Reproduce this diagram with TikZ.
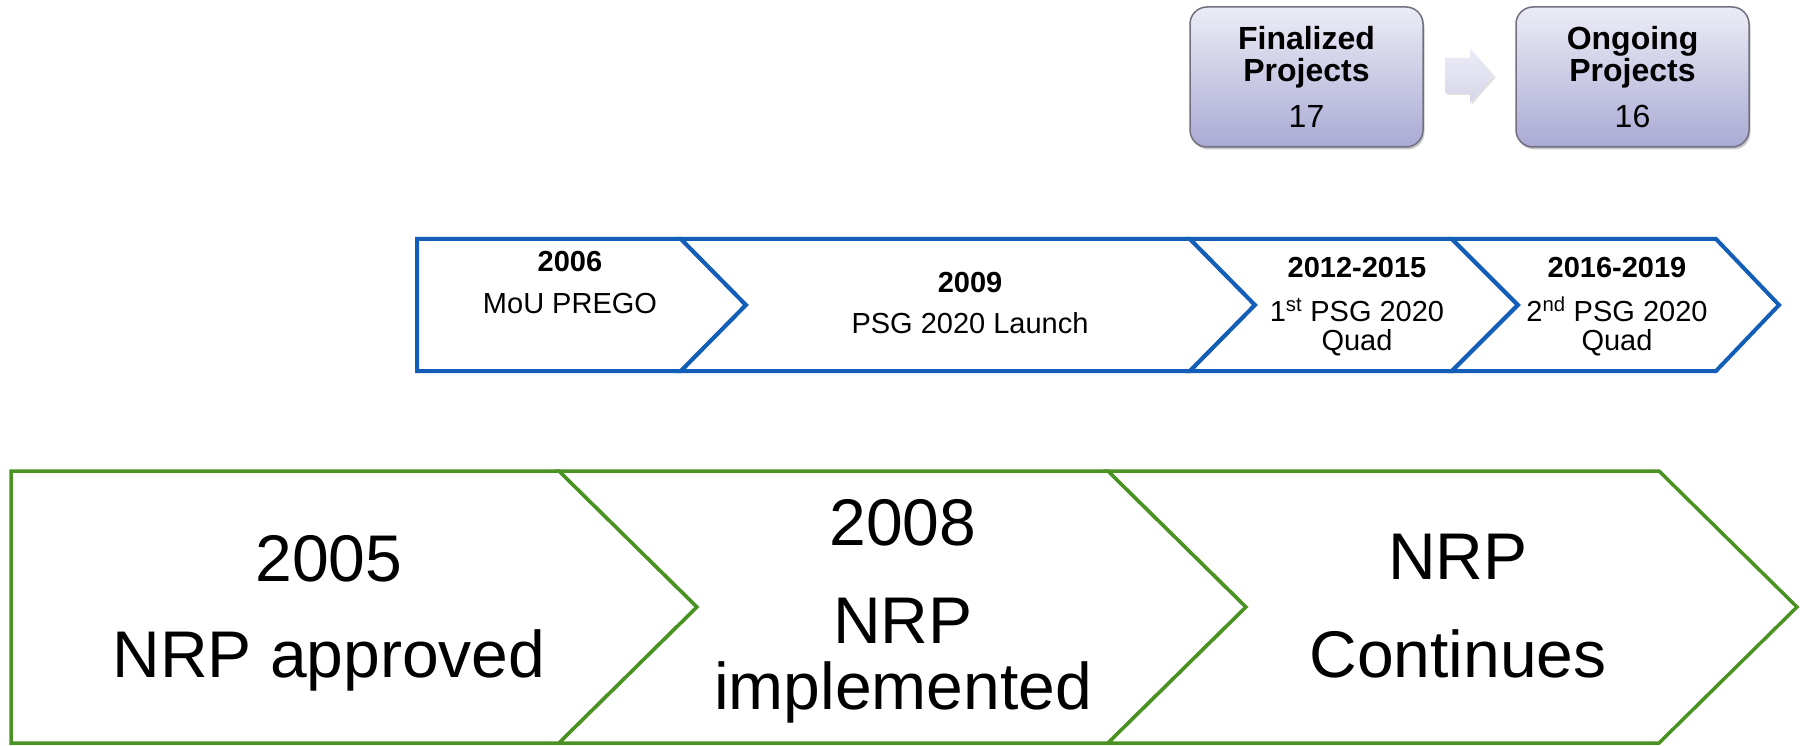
\documentclass[tikz,border=0pt]{standalone}
\usepackage{fontspec}
\setmainfont{Liberation Sans}
\usetikzlibrary{shadows,calc}
\definecolor{chevblue}{RGB}{18,94,184}
\definecolor{chevgreen}{RGB}{74,146,34}
\definecolor{boxtop}{RGB}{236,236,246}
\definecolor{boxbot}{RGB}{170,170,213}
\definecolor{boxline}{RGB}{112,112,128}
\definecolor{arrtop}{RGB}{236,236,246}
\definecolor{arrbot}{RGB}{214,214,234}
\begin{document}
\begin{tikzpicture}[x=1pt,y=-1pt,
  bchev/.style={draw=chevblue, line width=4pt, fill=white},
  gchev/.style={draw=chevgreen, line width=3.5pt, fill=white},
  byr/.style={font=\fontsize{29}{33}\selectfont\bfseries, anchor=base, inner sep=0pt},
  btx/.style={font=\fontsize{29}{33}\selectfont, anchor=base, inner sep=0pt},
  gtx/.style={font=\fontsize{66}{70}\selectfont, anchor=base, inner sep=0pt},
  projbox/.style={rounded corners=17pt, draw=boxline, line width=1.5pt,
    top color=boxtop, bottom color=boxbot, minimum width=233pt, minimum height=140pt,
    align=center, font=\fontsize{32}{32}\selectfont,
    drop shadow={shadow xshift=1.5pt, shadow yshift=-2.5pt, opacity=0.35, fill=black!60}},
  blockarrow/.style={top color=arrtop, bottom color=arrbot,
    drop shadow={shadow xshift=1.5pt, shadow yshift=-2pt, opacity=0.2, fill=black!60}},
]
\fill[white] (0,0) rectangle (1800,746);
\useasboundingbox (0,0) rectangle (1800,746);

% top project boxes
\node[projbox] (fin) at (1306.5,77) {\textbf{Finalized}\\\textbf{Projects}\\[14pt]17};
\node[projbox] (ong) at (1632.5,77) {\textbf{Ongoing}\\\textbf{Projects}\\[14pt]16};
\coordinate (ac) at ($(fin.east)!0.5!(ong.west)+(0,-1.5)$);
\path[blockarrow] ($(ac)+(-24.5,-17.5)$) -- ++(25,0) -- ++(0,-10) -- ++(24,27.5)
  -- ++(-24,27.5) -- ++(0,-10) -- ++(-25,0) -- cycle;

% blue chevrons
\draw[bchev] (417,239) -- (681,239) -- (746,305) -- (681,371) -- (417,371) -- cycle;
\draw[bchev] (681,239) -- (1190,239) -- (1255,305) -- (1190,371) -- (681,371) -- (746,305) -- cycle;
\draw[bchev] (1190,239) -- (1452,239) -- (1518,305) -- (1452,371) -- (1190,371) -- (1255,305) -- cycle;
\draw[bchev] (1452,239) -- (1716,239) -- (1779,305) -- (1716,371) -- (1452,371) -- (1518,305) -- cycle;

\node[byr] (t06) at (570,272) {2006};
\node[btx] (m06) at (570,313) {MoU PREGO};
\node[byr] (t09) at (970,293) {2009};
\node[btx] (m09) at (970,334) {PSG 2020 Launch};
\node[byr] (t12) at (1357,277) {2012-2015};
\node[btx] (m12a) at (1357,321) {1\textsuperscript{st} PSG 2020};
\node[btx] (m12b) at (1357,350) {Quad};
\node[byr] (t16) at (1617,277) {2016-2019};
\node[btx] (m16a) at (1617,321) {2\textsuperscript{nd} PSG 2020};
\node[btx] (m16b) at (1617,350) {Quad};

% green chevrons
\draw[gchev] (11,471) -- (559,471) -- (697,607) -- (559,743) -- (11,743) -- cycle;
\draw[gchev] (559,471) -- (1108,471) -- (1246,607) -- (1108,743) -- (559,743) -- (697,607) -- cycle;
\draw[gchev] (1108,471) -- (1659,471) -- (1797,607) -- (1659,743) -- (1108,743) -- (1246,607) -- cycle;

\node[gtx] (g05) at (329,581) {2005};
\node[gtx] (g05b) at (329,677) {NRP approved};
\node[gtx] (g08) at (903,545) {2008};
\node[gtx] (g08b) at (903,643) {NRP};
\node[gtx] (g08c) at (903,709) {implemented};
\node[gtx] (gnrp) at (1458,579) {NRP};
\node[gtx] (gcont) at (1458,677) {Continues};
\end{tikzpicture}
\end{document}
